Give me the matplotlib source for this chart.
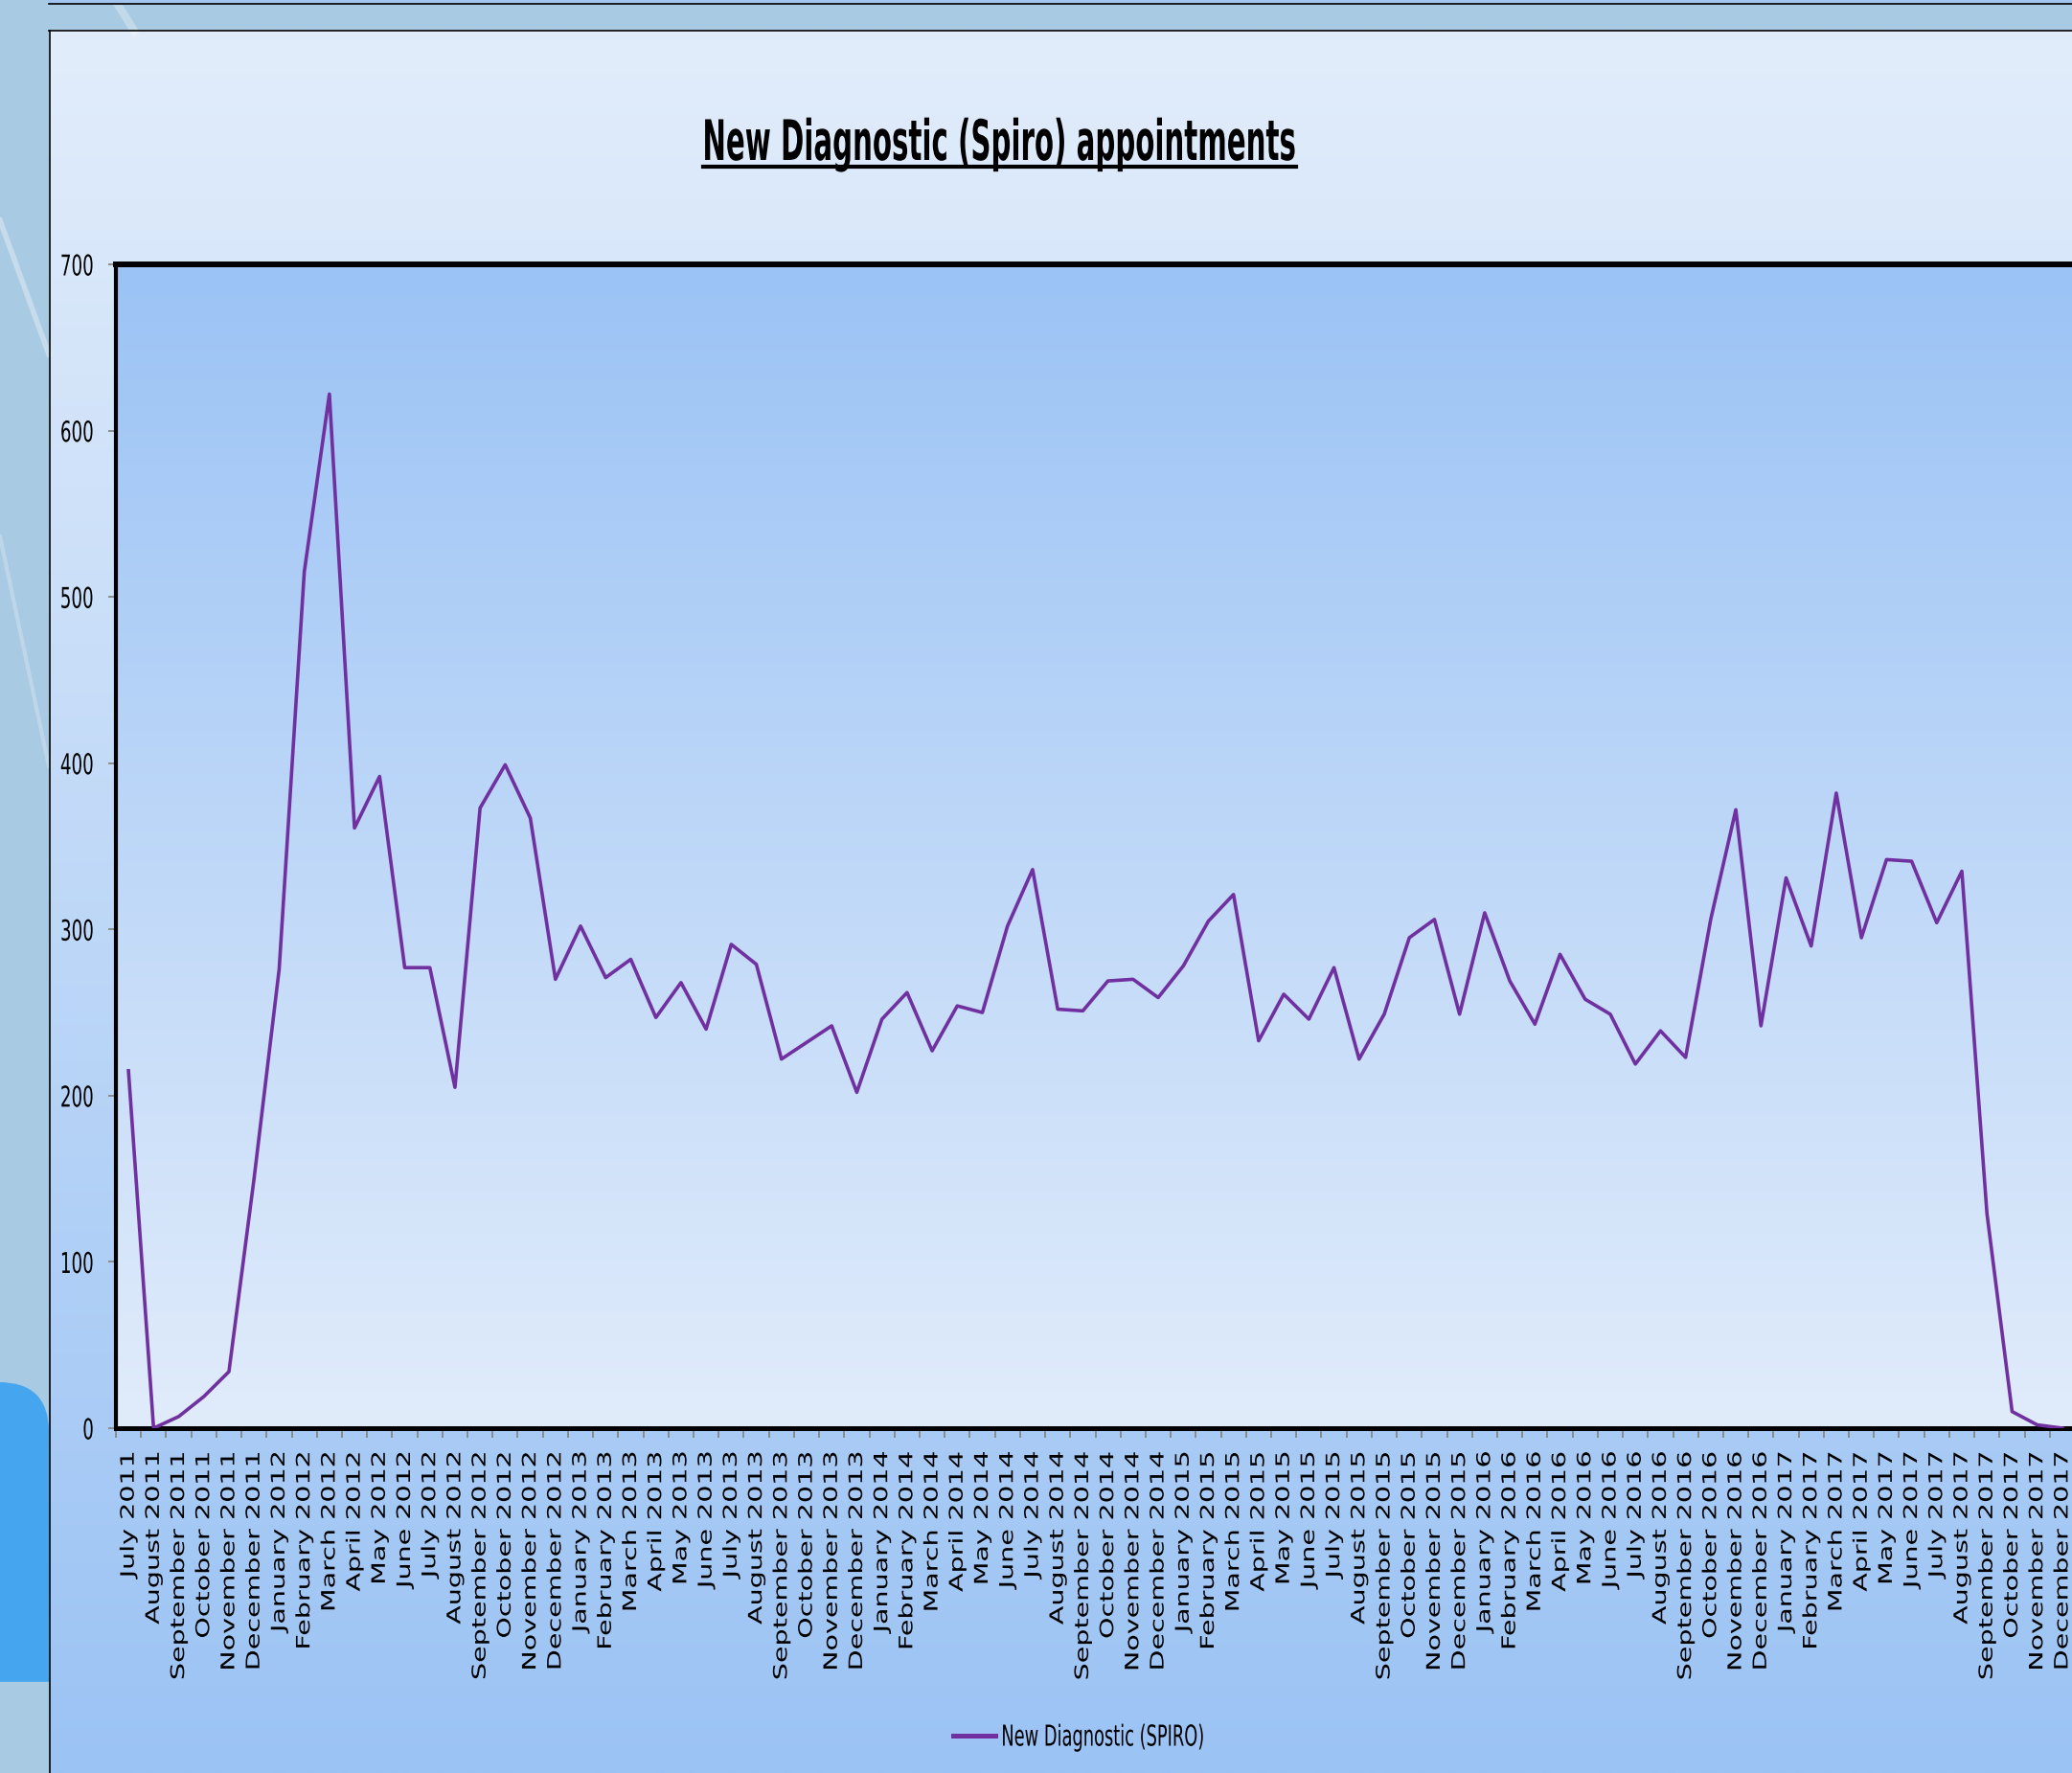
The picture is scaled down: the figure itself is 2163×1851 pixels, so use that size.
import numpy as np
import pandas as pd
import matplotlib
matplotlib.use("Agg")
import matplotlib.pyplot as plt
import matplotlib.patheffects as pe
from matplotlib.transforms import Affine2D
from matplotlib.patches import Rectangle, FancyBboxPatch
from matplotlib.lines import Line2D
from matplotlib.colors import to_rgb

# ---------------- data ----------------
months = list(pd.date_range("2011-07-01", periods=78, freq="MS").strftime("%B %Y"))
spiro = [215, 0, 7, 19, 34, 150, 276, 515, 622, 361, 392, 277, 277, 205, 373, 399,
         367, 270, 302, 271, 282, 247, 268, 240, 291, 279, 222, 232, 242, 202, 246,
         262, 227, 254, 250, 302, 336, 252, 251, 269, 270, 259, 278, 305, 321, 233,
         261, 246, 277, 222, 249, 295, 306, 249, 310, 269, 243, 285, 258, 249, 219,
         239, 223, 306, 372, 242, 331, 290, 382, 295, 342, 341, 304, 335, 129, 10, 2, 0]
y_ticks = [0, 100, 200, 300, 400, 500, 600, 700]
title_text = "New Diagnostic (Spiro) appointments"
series_name = "New Diagnostic (SPIRO)"

# ---------------- helpers ----------------
W, H, DPI = 2163, 1851, 100
NARROW = ["Liberation Sans Narrow", "DejaVu Sans"]
LINE_COLOR = "#7030A0"


class Squash(pe.AbstractPathEffect):
    """Scale glyph outlines along the text direction (text stays a real Text artist)."""

    def __init__(self, sx, anchor=0.5):
        super().__init__()
        self.sx = sx
        self.anchor = anchor

    def draw_path(self, renderer, gc, tpath, affine, rgbFace=None):
        ext = tpath.get_extents()
        a = ext.x0 + self.anchor * ext.width
        t = Affine2D().translate(-a, 0).scale(self.sx, 1).translate(a, 0) + affine
        renderer.draw_path(gc, tpath, t, rgbFace)


def vgrad(c_top, c_bot, n=256):
    f = np.linspace(0, 1, n)[:, None, None]
    return np.array(to_rgb(c_top)) * (1 - f) + np.array(to_rgb(c_bot)) * f


fig = plt.figure(figsize=(W / DPI, H / DPI), dpi=DPI)
fig.patch.set_facecolor("#a8cae2")

# ---------------- slide / chart-area background (pixel coords) ----------------
bg = fig.add_axes([0, 0, 1, 1], zorder=-10)
bg.axis("off")
bg.imshow(vgrad("#e2edfb", "#9bc3f4"), extent=(51, W, H, 32), aspect="auto",
          interpolation="bilinear", zorder=1)
bg.add_patch(Rectangle((51, 0), W - 51, 4.5, color="#a2c4ee", zorder=2))
bg.plot([51, W], [4.5, 4.5], color="black", lw=1.2, zorder=3)
bg.plot([51.5, 51.5], [32, H], color="black", lw=1.2, zorder=3)
bg.plot([51, W], [32, 32], color="black", lw=1.2, zorder=3)
# soft swooshes on the slide background
bg.plot([0, 51], [230, 370], color="white", alpha=0.35, lw=4, zorder=1)
bg.plot([0, 51], [560, 800], color="white", alpha=0.25, lw=3, zorder=1)
bg.plot([120, 140], [0, 32], color="white", alpha=0.3, lw=6, zorder=1)
# blue rounded shape lower-left
bg.add_patch(FancyBboxPatch((-80, 1443), 131, 380,
                            boxstyle="round,pad=0,rounding_size=52",
                            facecolor="#45a5ee", edgecolor="none", zorder=2))
bg.add_patch(Rectangle((0, 1756), 51, H - 1756, color="#a8cae2", zorder=2.5))
bg.set_xlim(0, W)
bg.set_ylim(H, 0)

# ---------------- main plot ----------------
ax = fig.add_axes([121 / W, (H - 1491) / H, (2166 - 121) / W, (1491 - 276) / H])
ax.set_facecolor("none")
ax.imshow(vgrad("#9bc3f5", "#e1ecfb"), extent=(-0.5, len(months) - 0.5, 0, 700),
          aspect="auto", interpolation="bilinear", zorder=0)
x = np.arange(len(months))
ax.plot(x, spiro, color=LINE_COLOR, lw=2.6, zorder=3, label=series_name)

ax.set_xlim(-0.5, len(months) - 0.5)
ax.set_ylim(0, 700)
ax.set_yticks(y_ticks)
ax.set_xticks(x)
ax.set_xticklabels(months, rotation=90, fontsize=14, family="DejaVu Sans")
ax.set_xticks(np.arange(-0.5, len(months), 1), minor=True)
ax.tick_params(axis="x", which="major", length=0, pad=17.3)
ax.tick_params(axis="x", which="minor", length=7, width=1.4, color="#8c8c8c",
               direction="out")
ax.tick_params(axis="y", length=6, width=1.4, color="#8c8c8c", direction="out",
               pad=10, labelsize=21.5)
for lab in ax.get_yticklabels():
    lab.set_family(NARROW)

for side, lw in (("top", 4.3), ("left", 3.0), ("bottom", 3.6), ("right", 3.0)):
    ax.spines[side].set_color("black")
    ax.spines[side].set_linewidth(lw)

# ---------------- title ----------------
title = fig.text(1043 / W, 1 - 167 / H, title_text, ha="center", va="baseline",
                 fontsize=42, fontweight="bold", family=NARROW, color="black")
fig.add_artist(Line2D([734 / W, 1353 / W], [1 - 174 / H] * 2,
                      transform=fig.transFigure, color="black", lw=3))

# ---------------- legend ----------------
proxy = Line2D([], [], color=LINE_COLOR, lw=3.6)
leg = fig.legend(handles=[proxy], labels=[series_name], loc="center left",
                 bbox_to_anchor=(995 / W, 1 - 1814 / H), bbox_transform=fig.transFigure,
                 frameon=False, prop={"family": NARROW, "size": 21.7},
                 handlelength=1.46, handletextpad=0.17, borderpad=0, borderaxespad=0)

# ---------------- fit text widths to the reference ----------------
fig.canvas.draw()
r = fig.canvas.get_renderer()
tw = title.get_window_extent(r).width
title.set_path_effects([Squash(620 / tw, 0.5)])
lt = leg.get_texts()[0]
lw_ = lt.get_window_extent(r).width
lt.set_path_effects([Squash(212 / lw_, 0.0)])
ylabs = ax.get_yticklabels()
w700 = ylabs[-1].get_window_extent(r).width
for lab in ylabs:
    lab.set_path_effects([Squash(35 / w700, 1.0)])
xlabs = ax.get_xticklabels()
hsep = xlabs[2].get_window_extent(r).height      # "September 2011"
for lab in xlabs:
    lab.set_path_effects([Squash(240 / hsep, 1.0)])

fig.savefig("out.png", dpi=DPI)
